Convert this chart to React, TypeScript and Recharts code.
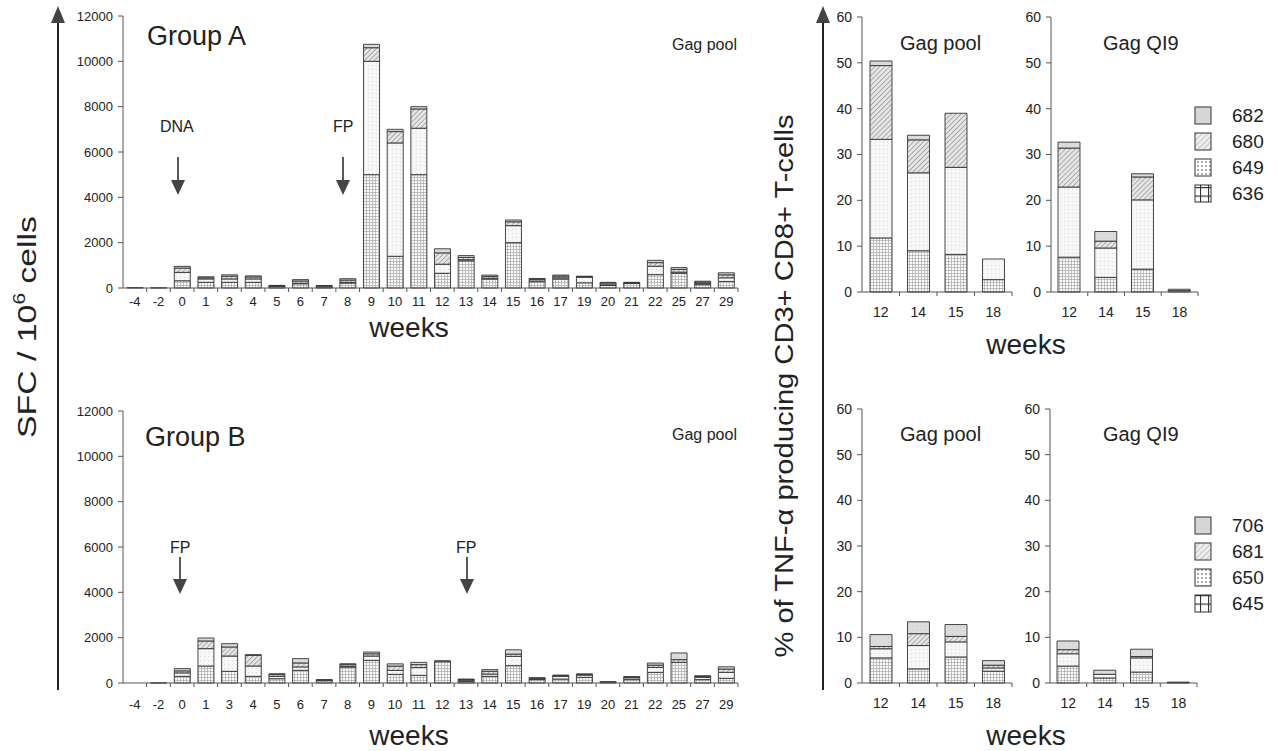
import React from 'react';
import { BarChart, Bar, XAxis, YAxis } from 'recharts';

// ---------- data ----------
const weeks = ['-4', '-2', '0', '1', '3', '4', '5', '6', '7', '8', '9', '10', '11', '12', '13', '14', '15', '16', '17', '19', '20', '21', '22', '25', '27', '29'];

// Group A, SFC / 10^6 cells (stack bottom -> top: 636, 649, 680, 682)
const groupA_636 = [20, 10, 320, 250, 250, 250, 60, 190, 50, 220, 5000, 1400, 5000, 650, 1200, 400, 2000, 280, 400, 230, 120, 200, 590, 650, 150, 290];
const groupA_649 = [0, 0, 370, 150, 150, 150, 20, 20, 0, 30, 5000, 5000, 2050, 400, 50, 30, 750, 80, 50, 250, 20, 20, 370, 50, 60, 160];
const groupA_680 = [0, 0, 190, 50, 120, 90, 20, 100, 40, 100, 600, 500, 850, 500, 100, 80, 170, 30, 80, 20, 80, 10, 160, 120, 50, 130];
const groupA_682 = [0, 0, 75, 45, 60, 45, 15, 60, 20, 60, 150, 100, 100, 180, 80, 60, 80, 30, 40, 20, 30, 20, 100, 80, 40, 90];

// Group B, SFC / 10^6 cells (stack bottom -> top: 645, 650, 681, 706)
const groupB_645 = [0, 5, 295, 750, 515, 295, 190, 560, 100, 705, 1000, 380, 340, 940, 60, 295, 765, 150, 175, 250, 40, 150, 470, 910, 150, 205];
const groupB_650 = [0, 0, 150, 765, 675, 455, 100, 150, 0, 30, 190, 175, 340, 0, 40, 100, 410, 20, 120, 100, 0, 80, 220, 0, 100, 265];
const groupB_681 = [0, 0, 90, 340, 400, 470, 80, 175, 30, 75, 100, 190, 130, 0, 50, 120, 100, 40, 30, 30, 0, 30, 100, 120, 40, 145];
const groupB_706 = [0, 0, 100, 130, 145, 30, 40, 190, 20, 40, 75, 100, 100, 45, 25, 75, 190, 25, 25, 20, 20, 20, 90, 295, 30, 100];

// % TNF-alpha producing CD3+ CD8+ T-cells
const tnfWeeks = ['12', '14', '15', '18'];
const poolA_636 = [11.8, 9.0, 8.2, 2.7];
const poolA_649 = [21.5, 17.0, 19.0, 4.5];
const poolA_680 = [16.1, 7.2, 11.8, 0];
const poolA_682 = [1.0, 1.0, 0, 0];
const qi9A_636 = [7.6, 3.2, 5.0, 0.3];
const qi9A_649 = [15.3, 6.4, 15.1, 0.3];
const qi9A_680 = [8.5, 1.5, 5.0, 0];
const qi9A_682 = [1.3, 2.1, 0.7, 0];
const poolB_645 = [5.5, 3.1, 5.7, 2.6];
const poolB_650 = [2.0, 5.1, 3.3, 0.7];
const poolB_681 = [0.5, 2.6, 1.2, 0.6];
const poolB_706 = [2.6, 2.6, 2.6, 1.0];
const qi9B_645 = [3.7, 1.1, 2.4, 0.1];
const qi9B_650 = [2.7, 0.8, 3.1, 0.1];
const qi9B_681 = [0.9, 0, 0.3, 0];
const qi9B_706 = [1.9, 0.9, 1.6, 0];

const sfcTicks = [0, 2000, 4000, 6000, 8000, 10000, 12000];
const pctTicks = [0, 10, 20, 30, 40, 50, 60];
const legendA = ['682', '680', '649', '636'];
const legendB = ['706', '681', '650', '645'];

const FONT = '"Liberation Sans", Arial, Helvetica, sans-serif';

const build = (cats: string[], s1: number[], s2: number[], s3: number[], s4: number[]) =>
  cats.map((c, i) => ({ week: c, s1: s1[i], s2: s2[i], s3: s3[i], s4: s4[i] }));

const makeTick = (bw: number, fontSize: number, dy: number) => (props: any) => {
  const { x, y, payload } = props;
  return (
    <g>
      <line x1={x + bw / 2} x2={x + bw / 2} y1={y} y2={y + 4} stroke="#555" strokeWidth={1} />
      <text x={x} y={y + dy} textAnchor="middle" fontSize={fontSize} fill="#222" fontFamily={FONT}>
        {payload.value}
      </text>
    </g>
  );
};

type PanelProps = {
  left: number; top: number; yw: number; plotW: number; plotH: number; marginTop: number;
  data: any[]; max: number; ticks: number[]; barSize: number; xFont: number; yFont: number; dy: number;
};

function Panel(p: PanelProps) {
  const bw = p.plotW / p.data.length;
  const xh = 40;
  return (
    <div style={{ position: 'absolute', left: p.left, top: p.top }}>
      <BarChart
        width={p.yw + p.plotW + 2}
        height={p.marginTop + p.plotH + xh}
        data={p.data}
        margin={{ top: p.marginTop, right: 2, left: 0, bottom: 0 }}
        barSize={p.barSize}
      >
        <XAxis dataKey="week" height={xh} tickSize={0} tickMargin={0} stroke="#555" interval={0} tick={makeTick(bw, p.xFont, p.dy)} />
        <YAxis
          width={p.yw}
          domain={[0, p.max]}
          ticks={p.ticks}
          interval={0}
          stroke="#555"
          tickSize={5}
          tickMargin={5}
          tick={{ fontSize: p.yFont, fill: '#222', fontFamily: FONT }}
        />
        <Bar dataKey="s1" stackId="s" fill="url(#pGrid)" stroke="#333" strokeWidth={0.9} isAnimationActive={false} />
        <Bar dataKey="s2" stackId="s" fill="url(#pDot)" stroke="#333" strokeWidth={0.9} isAnimationActive={false} />
        <Bar dataKey="s3" stackId="s" fill="url(#pHatch)" stroke="#333" strokeWidth={0.9} isAnimationActive={false} />
        <Bar dataKey="s4" stackId="s" fill="url(#pGray)" stroke="#333" strokeWidth={0.9} isAnimationActive={false} />
      </BarChart>
    </div>
  );
}

const legendFills = ['url(#lGray)', 'url(#lHatch)', 'url(#lDot)', 'url(#lGrid)'];

function LegendBlock({ x, y0, labels }: { x: number; y0: number; labels: string[] }) {
  return (
    <g>
      {labels.map((l, i) => {
        const cy = y0 + i * 26;
        return (
          <g key={l}>
            <rect x={x} y={cy - 8} width={16} height={17} fill={legendFills[i]} stroke="#333" strokeWidth={1} />
            <text x={x + 37} y={cy + 7} fontSize={19} fill="#222" fontFamily={FONT}>{l}</text>
          </g>
        );
      })}
    </g>
  );
}

function SmallArrow({ x, y1, y2 }: { x: number; y1: number; y2: number }) {
  return (
    <g>
      <line x1={x} x2={x} y1={y1} y2={y2 - 12} stroke="#222" strokeWidth={1.5} />
      <polygon points={`${x - 7},${y2 - 15} ${x + 7},${y2 - 15} ${x},${y2}`} fill="#444" />
    </g>
  );
}

export default function App() {
  const dataA = build(weeks, groupA_636, groupA_649, groupA_680, groupA_682);
  const dataB = build(weeks, groupB_645, groupB_650, groupB_681, groupB_706);
  const dPoolA = build(tnfWeeks, poolA_636, poolA_649, poolA_680, poolA_682);
  const dQi9A = build(tnfWeeks, qi9A_636, qi9A_649, qi9A_680, qi9A_682);
  const dPoolB = build(tnfWeeks, poolB_645, poolB_650, poolB_681, poolB_706);
  const dQi9B = build(tnfWeeks, qi9B_645, qi9B_650, qi9B_681, qi9B_706);

  return (
    <div style={{ position: 'absolute', left: 0, top: 0, width: 1277, height: 751, background: '#fff', fontFamily: FONT, overflow: 'hidden' }}>
      <svg width={1277} height={751} style={{ position: 'absolute', left: 0, top: 0 }}>
        <defs>
          <pattern id="pGrid" width={3} height={3} patternUnits="userSpaceOnUse">
            <rect width={3} height={3} fill="#fbfbfb" />
            <path d="M0 0.5 H3 M0.5 0 V3" stroke="#a8a8a8" strokeWidth={0.7} />
          </pattern>
          <pattern id="pDot" width={4} height={4} patternUnits="userSpaceOnUse">
            <rect width={4} height={4} fill="#f7f7f7" />
            <rect x={1} y={1} width={0.8} height={0.8} fill="#c8c8c8" />
          </pattern>
          <pattern id="pHatch" width={3.5} height={3.5} patternUnits="userSpaceOnUse" patternTransform="rotate(45)">
            <rect width={3.5} height={3.5} fill="#e6e6e6" />
            <line x1={0} y1={0} x2={0} y2={3.5} stroke="#8c8c8c" strokeWidth={1.3} />
          </pattern>
          <pattern id="pGray" width={4} height={4} patternUnits="userSpaceOnUse">
            <rect width={4} height={4} fill="#dcdcdc" />
            <rect x={2} y={2} width={1} height={1} fill="#cccccc" />
          </pattern>
          <pattern id="lGrid" width={8} height={8.5} patternUnits="userSpaceOnUse" x={0} y={0}>
            <rect width={8} height={8.5} fill="#fff" />
            <path d="M0 0.5 H8 M0.5 0 V8.5" stroke="#333" strokeWidth={1.2} />
          </pattern>
          <pattern id="lDot" width={4} height={4} patternUnits="userSpaceOnUse">
            <rect width={4} height={4} fill="#fff" />
            <circle cx={2} cy={2} r={0.8} fill="#444" />
          </pattern>
          <pattern id="lHatch" width={4} height={4} patternUnits="userSpaceOnUse" patternTransform="rotate(45)">
            <rect width={4} height={4} fill="#eee" />
            <line x1={0} y1={0} x2={0} y2={4} stroke="#999" strokeWidth={1} />
          </pattern>
          <pattern id="lGray" width={4} height={4} patternUnits="userSpaceOnUse">
            <rect width={4} height={4} fill="#d6d6d6" />
          </pattern>
        </defs>

        {/* big axis arrows */}
        <line x1={58} x2={58} y1={690} y2={20} stroke="#222" strokeWidth={2} />
        <polygon points="51,23 65,23 58,6" fill="#444" />
        <line x1={823} x2={823} y1={690} y2={20} stroke="#222" strokeWidth={2} />
        <polygon points="816,23 830,23 823,6" fill="#444" />

        <text transform="translate(36,327) rotate(-90) scale(1.3,1)" textAnchor="middle" fontSize={26} fill="#222" fontFamily={FONT}>
          SFC / 10<tspan fontSize={16} dy={-11}>6</tspan><tspan dy={11}> cells</tspan>
        </text>
        <text transform="translate(793,386) rotate(-90) scale(1.12,1)" textAnchor="middle" fontSize={26} fill="#222" fontFamily={FONT}>
          % of TNF-α producing CD3+ CD8+ T-cells
        </text>

        {/* Group A annotations */}
        <text x={147} y={45} fontSize={27} fill="#222">Group A</text>
        <text x={672} y={50} fontSize={16} fill="#222">Gag pool</text>
        <text x={160} y={132} fontSize={16} fill="#222">DNA</text>
        <SmallArrow x={178} y1={157} y2={195} />
        <text x={333} y={132} fontSize={16} fill="#222">FP</text>
        <SmallArrow x={343} y1={157} y2={195} />
        <text x={409} y={337} textAnchor="middle" fontSize={28} fill="#222">weeks</text>

        {/* Group B annotations */}
        <text x={145} y={446} fontSize={27} fill="#222">Group B</text>
        <text x={672} y={440} fontSize={16} fill="#222">Gag pool</text>
        <text x={170} y={553} fontSize={16} fill="#222">FP</text>
        <SmallArrow x={180} y1={557} y2={594} />
        <text x={456} y={553} fontSize={16} fill="#222">FP</text>
        <SmallArrow x={467} y1={557} y2={594} />
        <text x={409} y={745} textAnchor="middle" fontSize={28} fill="#222">weeks</text>

        {/* right-side panel titles */}
        <text x={900} y={50} fontSize={20} fill="#222">Gag pool</text>
        <text x={1103} y={50} fontSize={20} fill="#222">Gag QI9</text>
        <text x={1026} y={354} textAnchor="middle" fontSize={28} fill="#222">weeks</text>
        <text x={900} y={441} fontSize={20} fill="#222">Gag pool</text>
        <text x={1103} y={441} fontSize={20} fill="#222">Gag QI9</text>
        <text x={1026} y={745} textAnchor="middle" fontSize={28} fill="#222">weeks</text>

        <LegendBlock x={1195} y0={115} labels={legendA} />
        <LegendBlock x={1195} y0={525} labels={legendB} />
      </svg>

      <Panel left={63} top={0} yw={60} plotW={615} plotH={272} marginTop={16} data={dataA} max={12000} ticks={sfcTicks} barSize={16} xFont={13} yFont={13} dy={18} />
      <Panel left={63} top={395} yw={60} plotW={615} plotH={272} marginTop={16} data={dataB} max={12000} ticks={sfcTicks} barSize={16} xFont={13} yFont={13} dy={26} />

      <Panel left={822} top={0} yw={40} plotW={150} plotH={275} marginTop={17} data={dPoolA} max={60} ticks={pctTicks} barSize={22} xFont={14} yFont={14} dy={25} />
      <Panel left={1011} top={0} yw={40} plotW={147} plotH={275} marginTop={17} data={dQi9A} max={60} ticks={pctTicks} barSize={22} xFont={14} yFont={14} dy={25} />
      <Panel left={822} top={392} yw={40} plotW={150} plotH={274} marginTop={17} data={dPoolB} max={60} ticks={pctTicks} barSize={22} xFont={14} yFont={14} dy={25} />
      <Panel left={1010} top={392} yw={40} plotW={147} plotH={274} marginTop={17} data={dQi9B} max={60} ticks={pctTicks} barSize={22} xFont={14} yFont={14} dy={25} />
    </div>
  );
}
